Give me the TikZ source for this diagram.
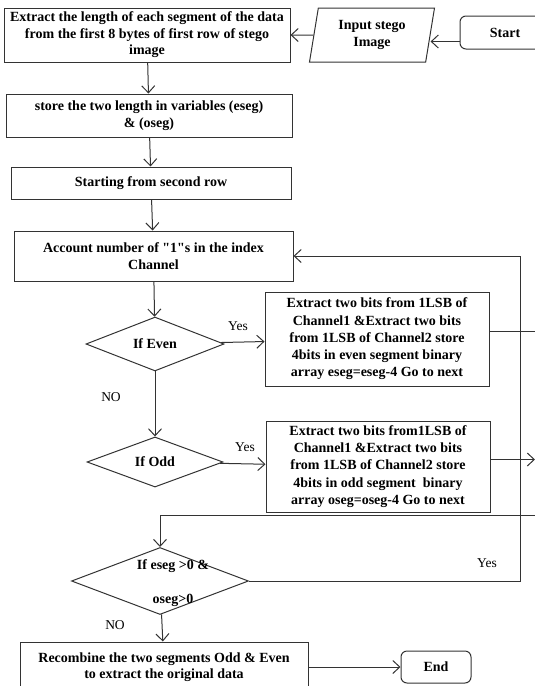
\documentclass[tikz,border=0pt]{standalone}
\usepackage{fontspec}
\setmainfont{Liberation Serif}
\usetikzlibrary{arrows.meta,shapes}
\tikzstyle{process}=[draw,rectangle,align=center,inner sep=2pt,font=\fontsize{14pt}{16.5pt}\selectfont\bfseries]
\tikzstyle{decision}=[draw,diamond,align=center,inner sep=0pt,font=\fontsize{14pt}{16.5pt}\selectfont\bfseries]
\tikzstyle{term}=[draw,rectangle,rounded corners=6pt,align=center,font=\fontsize{14pt}{16.5pt}\selectfont\bfseries]
\tikzstyle{inout}=[draw,trapezium,trapezium left angle=76,trapezium right angle=104,trapezium stretches body,align=center,font=\fontsize{14pt}{16.5pt}\selectfont\bfseries]
\tikzstyle{lbl}=[font=\fontsize{13.5pt}{15pt}\selectfont]

\begin{document}
\begin{tikzpicture}[->,>={Straight Barb[length=7pt,width=13pt]},line width=1pt,draw=black!80,node distance=80pt]
	\useasboundingbox (0,0) rectangle (535pt,-686pt);
	\node[process,minimum width=286pt,minimum height=54pt] (ext) at (147pt,-35pt) {Extract the length of each segment of the data\\from the first 8 bytes of first row of stego\\image};
	\node[inout,minimum width=125pt,minimum height=54pt,node distance=225pt] (in) [right of=ext] {Input stego\\Image};
	\node[term,minimum width=90pt,minimum height=33pt,node distance=133pt,yshift=2.5pt] (start) [right of=in] {Start};
	\node[process,minimum width=286pt,minimum height=43pt,node distance=80.5pt,xshift=2pt] (store) [below of=ext] {store the two length in variables (eseg)\\\& (oseg)};
	\node[process,minimum width=280pt,minimum height=32pt,node distance=67.5pt,xshift=2pt] (row) [below of=store] {Starting from second row};
	\node[process,minimum width=279pt,minimum height=50pt,node distance=73pt,xshift=2.5pt] (acc) [below of=row] {Account number of \textquotedbl1\textquotedbl s in the index\\Channel};
		\node[decision,minimum width=138pt,minimum height=50pt,node distance=88pt,xshift=1.5pt] (even) [below of=acc] {If Even};
		\node[decision,minimum width=136pt,minimum height=50pt,node distance=118pt] (odd) [below of=even] {If Odd};
		\node[decision,minimum width=177pt,minimum height=67pt,node distance=119pt,xshift=5pt] (chk) [below of=odd] {\makebox[0pt]{\hspace*{26pt}\raisebox{-12pt}{\smash{\begin{tabular}{@{}c@{}}If eseg >0 \&\\[17pt]oseg>0\end{tabular}}}}};
	\node[process,minimum width=224pt,minimum height=94pt,node distance=222pt,yshift=5pt,font=\fontsize{14pt}{17.2pt}\selectfont\bfseries] (ebox) [right of=even] {Extract two bits from 1LSB of\\Channel1 \&Extract two bits\\from 1LSB of Channel2 store\\4bits in even segment binary\\array eseg=eseg-4 Go to next};
	\node[process,minimum width=224pt,minimum height=91pt,node distance=223pt,yshift=-4.5pt,font=\fontsize{14pt}{17.2pt}\selectfont\bfseries] (obox) [right of=odd] {Extract two bits from1LSB of\\Channel1 \&Extract two bits\\from 1LSB of Channel2 store\\4bits in odd segment\ \ binary\\array oseg=oseg-4 Go to next};
	\node[process,minimum width=288pt,minimum height=50pt,node distance=86pt,xshift=4pt] (rec) [below of=chk] {Recombine the two segments Odd \& Even\\to extract the original data};
	\node[term,minimum width=70pt,minimum height=32pt,node distance=272pt] (end) [right of=rec] {End};
	% labels
	\node[lbl] (y1) at (238pt,-326pt) {Yes};
	\node[lbl] (y2) at (245pt,-447pt) {Yes};
	\node[lbl] (y3) at (487pt,-563pt) {Yes};
	\node[lbl] (n1) at (111pt,-397pt) {NO};
	\node[lbl] (n2) at (115pt,-625pt) {NO};
	% free ends
	\coordinate (edge) at (535pt,0pt);
	\coordinate (rail) at (520pt,0pt);
	\coordinate (back) at (535pt,-515pt);
	\coordinate (sa) at ([yshift=-9pt]start.west);
	\coordinate (eo) at ([yshift=8pt]ebox.east);
	\coordinate (oo) at ([yshift=7pt]obox.east);
	\path
		(in)	edge[]		(ext)
		(ext)	edge[]		(store)
		(store)	edge[]		(row)
		(row)	edge[]		(acc)
		(acc)	edge[]		(even)
		(even)	edge[]		(odd)
		(even)	edge[]		(ebox)
		(odd)	edge[]		(obox)
		(chk)	edge[]		(rec)
		(rec)	edge[]		(end);
	\draw (sa) -- (sa -| in.east);
	\draw[-] (eo) -- (eo -| edge);
	\draw (oo) -- (oo -| edge);
	\draw (back) -| (chk.north);
	\draw (chk.east) -- (chk.east -| rail) |- (acc.east);
\end{tikzpicture}
\end{document}
